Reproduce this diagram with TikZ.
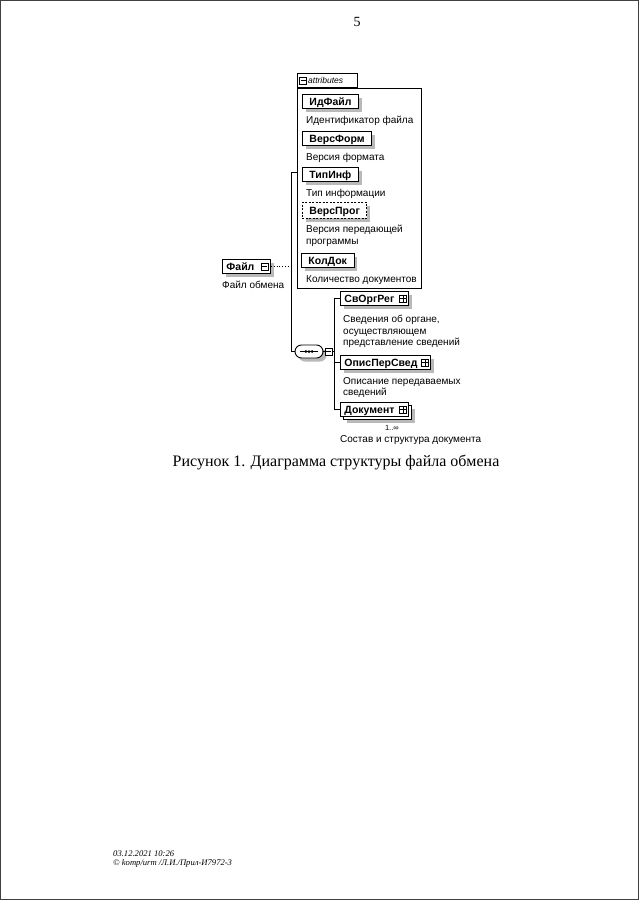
\documentclass[tikz,border=0pt]{standalone}
\usepackage{fontspec}
\setmainfont{Liberation Serif}
\setsansfont{Liberation Sans}
\usetikzlibrary{positioning, shadows, shapes.misc}

\begin{document}
\begin{tikzpicture}[
    x=1pt, y=-1pt,
    conn/.style={line width=0.8pt},
    dotconn/.style={conn, dotted},
    boxshadow/.style={drop shadow={shadow xshift=3.5pt, shadow yshift=-3.5pt, fill=gray!55, opacity=1}},
    elem/.style={draw, fill=white, line width=0.9pt, anchor=north west, minimum height=14pt, inner xsep=4pt, inner ysep=0pt, text height=11pt, text depth=3pt, align=left, font=\fontsize{10.5}{12}\selectfont\sffamily\bfseries, boxshadow},
    attrbox/.style={elem, inner xsep=7pt},
    desc/.style={anchor=north west, inner sep=0pt, align=left, font=\fontsize{10}{11.6}\selectfont\sffamily},
    plusicon/.pic={\draw[fill=white, line width=0.6pt] (-3.5,-3.5) rectangle (3.5,3.5); \draw[line width=0.6pt] (-3.5,0) -- (3.5,0) (0,-3.5) -- (0,3.5);},
    minusicon/.pic={\draw[fill=white, line width=0.6pt] (-3.5,-3.5) rectangle (3.5,3.5); \draw[line width=0.6pt] (-2.5,0) -- (2.5,0);}
]
\useasboundingbox (0,0) rectangle (640,905);

% page number and scan edges
\node[font=\fontsize{14}{16}\selectfont] (pagenum) at (357,22) {5};
\draw[black!75, line width=1pt] (0.5,0.5) rectangle (638.5,899);

% attributes group
\node[draw, line width=0.9pt, anchor=north west, minimum width=124pt, minimum height=200pt] (attrs) at (297,88) {};
\node[draw, line width=0.9pt, anchor=south west, minimum width=60pt, minimum height=14pt] (attrtab) at (attrs.north west) {};
\pic at ([xshift=6pt]attrtab.west) {minusicon};
\node[anchor=west, inner sep=0pt, font=\fontsize{8.5}{9}\selectfont\sffamily\itshape] (attrlabel) at ([xshift=11pt]attrtab.west) {attributes};

\node[attrbox] (idfajl) at (302,94) {ИдФайл};
\node[desc, below right=7pt and 4pt of idfajl.south west] (idfajltxt) {Идентификатор файла};
\node[attrbox] (versform) at (302,131) {ВерсФорм};
\node[desc, below right=7pt and 4pt of versform.south west] (versformtxt) {Версия формата};
\node[attrbox] (tipinf) at (302,167) {ТипИнф};
\node[desc, below right=7pt and 4pt of tipinf.south west] (tipinftxt) {Тип информации};
\node[attrbox, dashed, dash pattern=on 2pt off 1.5pt, minimum height=16pt] (versprog) at (302,202) {ВерсПрог};
\node[desc, below right=6pt and 4pt of versprog.south west] (versprogtxt) {Версия передающей\\программы};
\node[attrbox] (koldok) at (301,253) {КолДок};
\node[desc, below right=8pt and 5pt of koldok.south west] (koldoktxt) {Количество документов};

% root element
\node[elem, text width=40pt] (fajl) at (222,259) {Файл};
\node[desc, below right=7pt and 0pt of fajl.south west] (fajltxt) {Файл обмена};

% sequence
\node[draw, fill=white, line width=0.9pt, rounded rectangle, minimum width=28pt, minimum height=13pt, inner sep=0pt, boxshadow] (seq) at (309,351.5) {};
\draw[line width=0.6pt] ([xshift=-9pt]seq.center) -- ([xshift=9pt]seq.center);
\foreach \d in {-3.2,0,3.2}
    \fill ([xshift=\d pt]seq.center) circle (1.5pt);

% children
\node[elem, text width=60pt] (svorg) at (340,291) {СвОргРег};
\node[desc, below right=9pt and 3pt of svorg.south west] (svorgtxt) {Сведения об органе,\\осуществляющем\\представление сведений};
\node[elem, text width=82pt] (opis) at (340,355) {ОписПерСвед};
\node[desc, below right=7pt and 3pt of opis.south west] (opistxt) {Описание передаваемых\\сведений};
\node[elem, text width=60pt, drop shadow={shadow xshift=6.5pt, shadow yshift=-6.5pt, fill=gray!55, opacity=1}, copy shadow={shadow xshift=3pt, shadow yshift=-3pt}] (dok) at (340,402) {Документ};
\node[anchor=north east, inner sep=0pt, font=\fontsize{7.5}{8}\selectfont\sffamily, below left=8pt and 10pt of dok.south east] (dokocc) {1..∞};
\node[desc, below right=18pt and 0pt of dok.south west] (doktxt) {Состав и структура документа};

% connectors
\coordinate (spine) at (291,172);
\coordinate (bus) at (334,352);
\draw[dotconn] (fajl.east) -- (fajl.east -| spine);
\draw[conn] (attrs.west |- spine) -- (spine) |- (seq.west);
\draw[conn] (seq.east) -- (seq.east -| bus);
\draw[conn] (svorg.west) -- (svorg.west -| bus) -- (dok.west -| bus) -- (dok.west);
\draw[conn] (opis.west) -- (opis.west -| bus);

% icons
\pic at ([xshift=-6pt]fajl.east) {minusicon};
\pic at ([xshift=5pt]seq.east) {minusicon};
\pic at ([xshift=-6pt]svorg.east) {plusicon};
\pic at ([xshift=-6pt]opis.east) {plusicon};
\pic at ([xshift=-6pt]dok.east) {plusicon};

% caption and footer
\node[font=\fontsize{16}{18}\selectfont] (caption) at (336,462) {Рисунок 1. Диаграмма структуры файла обмена};
\node[anchor=north west, inner sep=0pt, align=left, font=\fontsize{8.6}{9}\selectfont\itshape] (footer) at (113,851) {03.12.2021 10:26\\\textcopyright\ komp/urm /Л.И./Прил-И7972-3};

\end{tikzpicture}
\end{document}
